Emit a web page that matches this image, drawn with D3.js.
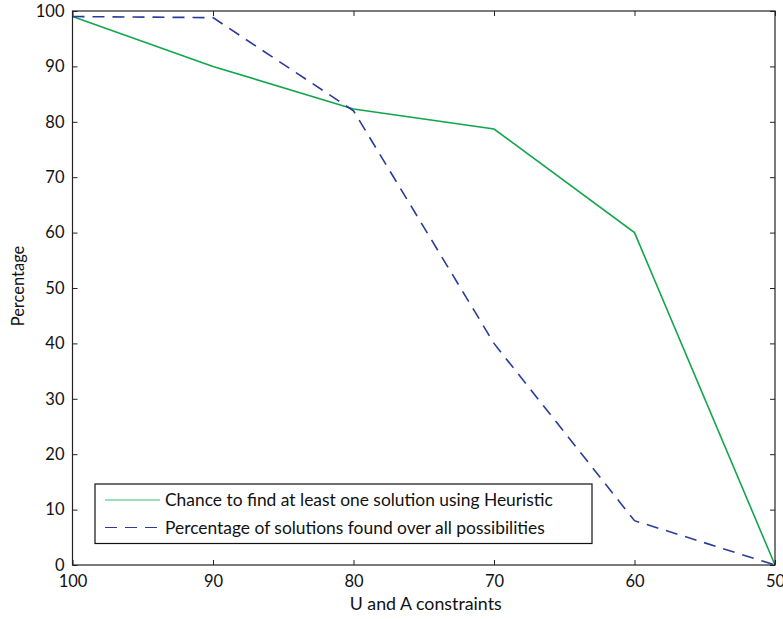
<!DOCTYPE html>
<html><head><meta charset="utf-8">
<script src="https://cdn.jsdelivr.net/npm/d3@7"></script>
<style>body{margin:0;background:#fff}svg{display:block}text{font-family:Lato,"Open Sans",sans-serif;fill:#111}</style>
</head><body><div id="c"></div>
<script>
const constraints = [100, 90, 80, 70, 60, 50];
const heuristicChance = [99, 90, 82.3, 78.7, 60, 0];
const solutionsFound = [99, 98.8, 82, 40, 8, 0];
const xTicks = [100, 90, 80, 70, 60, 50];
const yTicks = [0, 10, 20, 30, 40, 50, 60, 70, 80, 90, 100];
const seriesNames = ["Chance to find at least one solution using Heuristic", "Percentage of solutions found over all possibilities"];

const W = 783, H = 619;
const m = {l: 72.5, r: 775, t: 11, b: 565};
const svg = d3.select("#c").append("svg").attr("width", W).attr("height", H);
const x = d3.scaleLinear().domain([100, 50]).range([m.l, m.r]);
const y = d3.scaleLinear().domain([0, 100]).range([m.b, m.t]);

const fs = 16.5;
const g = svg.append("g");
function styleAxis(sel){ sel.select(".domain").remove(); sel.selectAll("line").attr("stroke","#222"); sel.selectAll("text").style("font-size", fs+"px").attr("fill","#111"); }
g.append("g").attr("transform",`translate(0,${m.b})`).call(d3.axisBottom(x).tickValues(xTicks).tickSize(-5).tickPadding(10).tickFormat(d3.format("d"))).call(styleAxis);
g.append("g").attr("transform",`translate(0,${m.t})`).call(d3.axisTop(x).tickValues(xTicks).tickSize(-5).tickFormat("")).call(styleAxis);
g.append("g").attr("transform",`translate(${m.l},0)`).call(d3.axisLeft(y).tickValues(yTicks).tickSize(-5).tickPadding(8).tickFormat(d3.format("d"))).call(styleAxis);
g.append("g").attr("transform",`translate(${m.r},0)`).call(d3.axisRight(y).tickValues(yTicks).tickSize(-5).tickFormat("")).call(styleAxis);

const line = d3.line().x((d,i)=>x(constraints[i])).y(d=>y(d));
svg.append("path").datum(heuristicChance).attr("d", line).attr("fill","none").attr("stroke","#12a64c").attr("stroke-width",1.6);
svg.append("path").datum(solutionsFound).attr("d", line).attr("fill","none").attr("stroke","#2b3a9c").attr("stroke-width",1.6).attr("stroke-dasharray","12,8");

svg.append("rect").attr("x",m.l).attr("y",m.t).attr("width",m.r-m.l).attr("height",m.b-m.t).attr("fill","none").attr("stroke","#222").attr("stroke-width",1.2);

const lg = svg.append("g");
lg.append("rect").attr("x",95).attr("y",484).attr("width",497).attr("height",59.5).attr("fill","#fff").attr("stroke","#111").attr("stroke-width",1.2);
const colors = ["#2ec46e","#2b3a9c"], dashes = [null, "12,8"];
seriesNames.forEach((n,i)=>{
  const yy = 500 + i*27.5;
  lg.append("line").attr("x1",105).attr("x2",160).attr("y1",yy).attr("y2",yy).attr("stroke",colors[i]).attr("stroke-width",1.2).attr("stroke-dasharray",dashes[i]);
  lg.append("text").attr("x",165).attr("y",yy+6).style("font-size","17.4px").text(n);
});

svg.append("text").attr("x",(m.l+m.r)/2 + 2).attr("y",610).attr("text-anchor","middle").style("font-size","17.8px").text("U and A constraints");
svg.append("text").attr("transform",`translate(24,${(m.t+m.b)/2 - 2}) rotate(-90)`).attr("text-anchor","middle").style("font-size",fs+"px").text("Percentage");
</script></body></html>
